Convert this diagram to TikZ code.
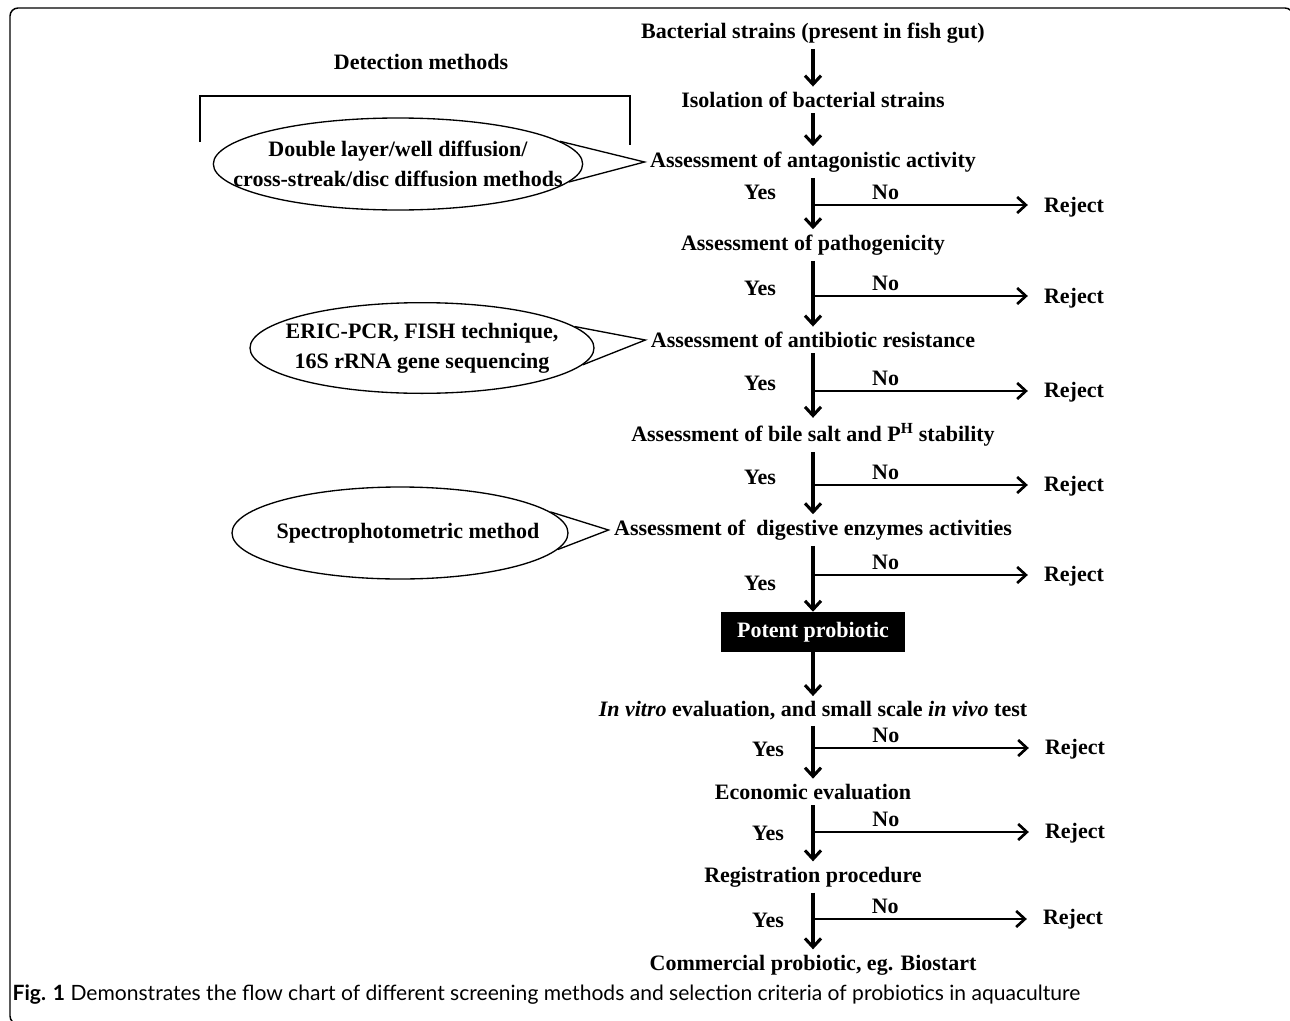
\documentclass[tikz,border=0pt]{standalone}
\usepackage{fontspec}
\setmainfont{Liberation Serif}
\newfontfamily\capfont{Lato}
\usetikzlibrary{shapes.geometric,arrows.meta}

\begin{document}
\begin{tikzpicture}[x=0.75pt, y=-0.75pt, font=\fontsize{16.5}{22.5}\selectfont\bfseries]
    \tikzstyle{stage} = [inner sep=4pt]
    \tikzstyle{lbl} = [inner sep=3pt]
    \tikzstyle{method} = [ellipse, draw, line width=1pt, inner sep=0pt]
    \tikzstyle{arr} = [-{Straight Barb[length=6.5pt, width=12pt]}, line width=2.3pt]
    \tikzstyle{noarr} = [-{Straight Barb[length=6.5pt, width=12pt]}, line width=2pt, shorten >=9pt]

    \clip (0,0) rectangle (1290,1021);
    \draw[line width=1.1pt, rounded corners=6pt] (10,8) rectangle (1293,1024);

    % main column
    \node[stage] (strains) at (813,33) {Bacterial strains (present in fish gut)};
    \node[stage] (isolation) at (813,100) {Isolation of bacterial strains};
    \node[stage] (antag) at (813,162) {Assessment of antagonistic activity};
    \node[stage] (patho) at (813,245) {Assessment of pathogenicity};
    \node[stage] (antibio) at (813,340) {Assessment of antibiotic resistance};
    \node[stage] (bile) at (813,435) {Assessment of bile salt and P\textsuperscript{H} stability};
    \node[stage] (enzyme) at (813,530) {Assessment of~ digestive enzymes activities};
    \node[fill=black, text=white, minimum width=138pt, minimum height=30pt] (potent) at (813,632) {Potent probiotic};
    \node[stage] (invitro) at (813,711) {\textit{In vitro} evaluation, and small scale \textit{in vivo} test};
    \node[stage] (economic) at (813,792) {Economic evaluation};
    \node[stage] (registration) at (813,877) {Registration procedure};
    \node[stage] (commercial) at (813,965) {Commercial probiotic, eg. Biostart};

    \draw[arr] (strains) -- (isolation);
    \draw[arr] (isolation) -- (antag);
    \draw[arr] (antag) -- (patho);
    \draw[arr] (patho) -- (antibio);
    \draw[arr] (antibio) -- (bile);
    \draw[arr] (bile) -- (enzyme);
    \draw[arr] (enzyme) -- (potent);
    \draw[arr] (potent) -- (invitro);
    \draw[arr] (invitro) -- (economic);
    \draw[arr] (economic) -- (registration);
    \draw[arr] (registration) -- (commercial);

    % yes / no branches
    \coordinate (b1) at (813,205);
    \coordinate (b2) at (813,296);
    \coordinate (b3) at (813,391);
    \coordinate (b4) at (813,485);
    \coordinate (b5) at (813,575);
    \coordinate (b6) at (813,748);
    \coordinate (b7) at (813,832);
    \coordinate (b8) at (813,919);

    \node[lbl] (rej1) at (1074,207) {Reject};
    \node[lbl] (rej2) at (1074,298) {Reject};
    \node[lbl] (rej3) at (1074,392) {Reject};
    \node[lbl] (rej4) at (1074,486) {Reject};
    \node[lbl] (rej5) at (1074,576) {Reject};
    \node[lbl] (rej6) at (1075,749) {Reject};
    \node[lbl] (rej7) at (1075,833) {Reject};
    \node[lbl] (rej8) at (1073,919) {Reject};

    \node[lbl] (yes1) at (760,192) {Yes};
    \node[lbl] (yes2) at (760,288) {Yes};
    \node[lbl] (yes3) at (760,383) {Yes};
    \node[lbl] (yes4) at (760,477) {Yes};
    \node[lbl] (yes5) at (760,583) {Yes};
    \node[lbl] (yes6) at (768,749) {Yes};
    \node[lbl] (yes7) at (768,833) {Yes};
    \node[lbl] (yes8) at (768,920) {Yes};

    \draw[noarr] (b1) -- node[lbl, pos=0.32, above] (no1) {No} (b1 -| rej1.west);
    \draw[noarr] (b2) -- node[lbl, pos=0.32, above] (no2) {No} (b2 -| rej2.west);
    \draw[noarr] (b3) -- node[lbl, pos=0.32, above] (no3) {No} (b3 -| rej3.west);
    \draw[noarr] (b4) -- node[lbl, pos=0.32, above] (no4) {No} (b4 -| rej4.west);
    \draw[noarr] (b5) -- node[lbl, pos=0.32, above] (no5) {No} (b5 -| rej5.west);
    \draw[noarr] (b6) -- node[lbl, pos=0.32, above] (no6) {No} (b6 -| rej6.west);
    \draw[noarr] (b7) -- node[lbl, pos=0.32, above] (no7) {No} (b7 -| rej7.west);
    \draw[noarr] (b8) -- node[lbl, pos=0.32, above] (no8) {No} (b8 -| rej8.west);

    % detection methods
    \node[lbl] (detect) at (421,62) {Detection methods};
    \draw[line width=0.9pt] (200,142) |- (630,96) -- (630,145);

    \node[method, minimum width=277pt, minimum height=69pt,
        label={[align=center]center:Double layer/well diffusion/\\cross-streak/disc diffusion methods}]
        (diffusion) at (398,164) {};
    \node[method, minimum width=258pt, minimum height=68pt,
        label={[align=center]center:ERIC-PCR, FISH technique,\\16S rRNA gene sequencing}]
        (pcr) at (422,348) {};
    \node[method, minimum width=252pt, minimum height=69pt,
        label={[xshift=6pt]center:Spectrophotometric method}]
        (spectro) at (400,533) {};

    \draw[line width=1pt] (diffusion.8) -- (antag.west) -- (diffusion.-6);
    \draw[line width=1pt] (pcr.8) -- (antibio.west) -- (pcr.-6);
    \draw[line width=1pt] (spectro.8) -- (enzyme.west) -- (spectro.-6);

    % caption
    \node[anchor=west, font=\capfont\fontsize{15.8}{18}\selectfont] (caption) at (8,995)
        {\textbf{Fig. 1} Demonstrates the flow chart of different screening methods and selection criteria of probiotics in aquaculture};
\end{tikzpicture}
\end{document}
